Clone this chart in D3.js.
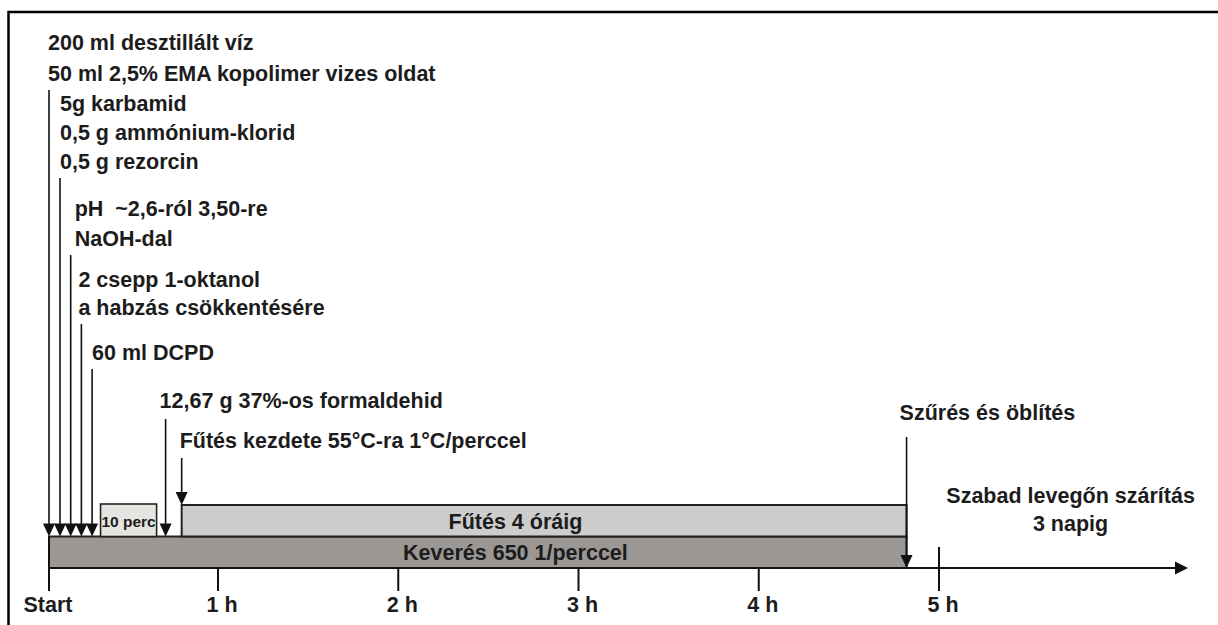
<!DOCTYPE html>
<html><head><meta charset="utf-8">
<script src="https://cdn.jsdelivr.net/npm/d3@7"></script>
<style>
html,body{margin:0;padding:0;background:#fff;}
svg{display:block;}
text{font-family:"Liberation Sans",Arial,sans-serif;font-weight:bold;fill:#1c1c1c;white-space:pre;}
</style></head>
<body>
<script>
// ---------- DATA ----------
const tickHours  = [0, 1, 2, 3, 4, 5];
const tickLabels = ["Start", "1 h", "2 h", "3 h", "4 h", "5 h"];

// ingredient additions (minutes after start) and their label lines
const addMinutes = [0, 3.9, 7.7, 11.5, 15.3];
const addLabels = [
  ["200 ml desztillált víz", "50 ml 2,5% EMA kopolimer vizes oldat"],
  ["5g karbamid", "0,5 g ammónium-klorid", "0,5 g rezorcin"],
  ["pH  ~2,6-ról 3,50-re", "NaOH-dal"],
  ["2 csepp 1-oktanol", "a habzás csökkentésére"],
  ["60 ml DCPD"]
];

// waiting period box (minutes)
const waitStart = 18.3, waitEnd = 38.2, waitLabel = "10 perc";
// formaldehyde addition, heating start (minutes)
const formMinute = 41.4, formLabel = "12,67 g 37%-os formaldehid";
const heatMinute = 47.1, heatLabel = "Fűtés kezdete 55°C-ra 1°C/perccel";
// end of process (hours)
const endHour = 4.82, endLabel = "Szűrés és öblítés";
// bars (hours)
const heatBar = {start: 47.1 / 60, end: 4.82, label: "Fűtés 4 óráig", labelAt: 2.65};
const stirBar = {start: 0, end: 4.82, label: "Keverés 650 1/perccel", labelAt: 2.65};
const dryLabel = ["Szabad levegőn szárítás", "3 napig"], dryAt = 5.73;

// ---------- LAYOUT ----------
const W = 1218, H = 625;
const axisY = 568, barH = 31.5;
const groupFirstBaseline = [50, 111, 216, 287, 360];
const groupLineGap = [31, 29, 30, 28, 30];
const groupTextDx = [-1, 0, 4, -3, 0];
const FS = "21.5px";

const svg = d3.select("body").append("svg").attr("width", W).attr("height", H);

// frame (top and left edges visible)
svg.append("rect").attr("x", 8.5).attr("y", 12).attr("width", 1240).attr("height", 660)
  .attr("fill", "none").attr("stroke", "#000").attr("stroke-width", 2.5);

const x = d3.scaleLinear().domain([0, 1, 5]).range([49, 218, 939]);
const xm = m => x(m / 60);

function vArrow(cx, y0, y1) {
  svg.append("line").attr("x1", cx).attr("x2", cx).attr("y1", y0).attr("y2", y1 - 6)
    .attr("stroke", "#111").attr("stroke-width", 1.6);
  svg.append("path")
    .attr("d", `M${cx - 6},${y1 - 13}L${cx + 6},${y1 - 13}L${cx},${y1}Z`)
    .attr("fill", "#111");
}

// bars
const stirTop = axisY - barH, heatTop = stirTop - barH;
svg.append("rect").attr("x", x(stirBar.start)).attr("y", stirTop)
  .attr("width", x(stirBar.end) - x(stirBar.start)).attr("height", barH)
  .attr("fill", "#9a9794").attr("stroke", "#222").attr("stroke-width", 2);
svg.append("rect").attr("x", x(heatBar.start)).attr("y", heatTop)
  .attr("width", x(heatBar.end) - x(heatBar.start)).attr("height", barH)
  .attr("fill", "#cdcdcd").attr("stroke", "#222").attr("stroke-width", 2);
svg.append("rect").attr("x", xm(waitStart)).attr("y", heatTop - 1)
  .attr("width", xm(waitEnd) - xm(waitStart)).attr("height", barH + 1)
  .attr("fill", "#e6e4e0").attr("stroke", "#222").attr("stroke-width", 1.6);

svg.append("text").attr("x", (xm(waitStart) + xm(waitEnd)) / 2).attr("y", heatTop + 22)
  .attr("text-anchor", "middle").style("font-size", "15.5px").text(waitLabel);
svg.append("text").attr("x", x(heatBar.labelAt)).attr("y", heatTop + 23.5)
  .attr("text-anchor", "middle").style("font-size", FS).text(heatBar.label);
svg.append("text").attr("x", x(stirBar.labelAt)).attr("y", stirTop + 23.5)
  .attr("text-anchor", "middle").style("font-size", FS).text(stirBar.label);

// axis
svg.append("line").attr("x1", x(0)).attr("x2", 1177).attr("y1", axisY).attr("y2", axisY)
  .attr("stroke", "#111").attr("stroke-width", 2);
svg.append("path").attr("d", `M1175,${axisY - 6.5}L1188,${axisY}L1175,${axisY + 6.5}Z`).attr("fill", "#111");

tickHours.forEach((h, i) => {
  const top = h === 5 ? axisY - 21 : (h === 0 ? stirTop : axisY);
  svg.append("line").attr("x1", x(h)).attr("x2", x(h)).attr("y1", top).attr("y2", axisY + 23)
    .attr("stroke", "#111").attr("stroke-width", 2);
  svg.append("text").attr("x", x(h) + (h === 0 ? -1 : 4)).attr("y", 612).attr("text-anchor", "middle")
    .style("font-size", FS).text(tickLabels[i]);
});

// ingredient arrows and labels
addMinutes.forEach((m, i) => {
  const cx = xm(m);
  const lines = addLabels[i];
  const t = svg.append("text").style("font-size", FS);
  lines.forEach((s, j) => {
    t.append("tspan").attr("x", cx + groupTextDx[i]).attr("y", groupFirstBaseline[i] + j * groupLineGap[i]).text(s);
  });
  const lastBase = groupFirstBaseline[i] + (lines.length - 1) * groupLineGap[i];
  vArrow(cx, lastBase + 9, stirTop);
});

// formaldehyde
vArrow(xm(formMinute), 419, stirTop);
svg.append("text").attr("x", xm(formMinute) - 6).attr("y", 408).style("font-size", FS).text(formLabel);
// heating start
vArrow(xm(heatMinute), 458, heatTop);
svg.append("text").attr("x", xm(heatMinute) - 2).attr("y", 448).style("font-size", FS).text(heatLabel);
// end
vArrow(x(endHour), 437, axisY);
svg.append("text").attr("x", x(endHour) - 7).attr("y", 420).style("font-size", FS).text(endLabel);
// drying
const dt = svg.append("text").attr("text-anchor", "middle").style("font-size", FS);
dryLabel.forEach((s, j) => dt.append("tspan").attr("x", x(dryAt)).attr("y", 503 + j * 28).text(s));
</script>
</body></html>
